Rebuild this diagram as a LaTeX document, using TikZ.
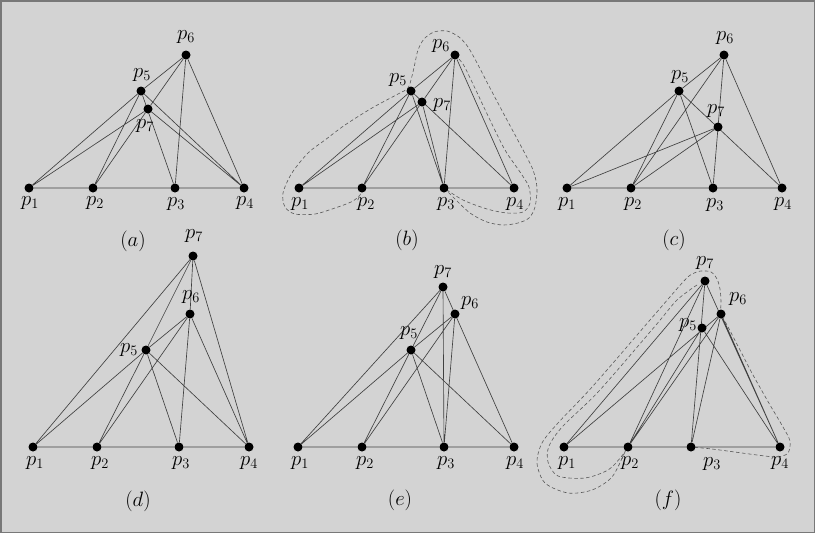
\documentclass[tikz,border=0pt]{standalone}
\definecolor{bgcol}{RGB}{211,211,211}
\definecolor{framecol}{RGB}{120,120,120}
\pgfdeclarelayer{bg}
\pgfsetlayers{bg,main}
\tikzset{
  ptdot/.style={circle,fill=black,inner sep=0pt,minimum size=9pt},
  ptlab/.style={inner sep=0pt,font=\fontsize{20}{24}\selectfont},
  captext/.style={inner sep=0pt,font=\fontsize{20}{24}\selectfont},
  conn/.style={draw=black!75,line width=0.65pt},
  hull/.style={draw=black!65,line width=0.6pt,dash pattern=on 3.5pt off 2.5pt},
}
\newcommand\mypt[4]{\node[ptdot] (#1) at (#2) {}; \node[ptlab] (#1l) at (#3) {$p_{#4}$};}
\begin{document}
\begin{tikzpicture}[x=1pt,y=-1pt]
\useasboundingbox (0,0) rectangle (815,533);
\begin{pgfonlayer}{bg}
\fill[bgcol] (0,0) rectangle (815,533);
\draw[framecol,line width=1.5pt] (0.75,0.75) rectangle (814.25,532.25);
\end{pgfonlayer}
% ---------- (a)
\mypt{a1}{29,188}{30,203}{1}
\mypt{a2}{93,188}{95,203}{2}
\mypt{a3}{175,188}{176,204}{3}
\mypt{a4}{244,188}{245,203}{4}
\mypt{a5}{141,91}{142,75}{5}
\mypt{a6}{186,55}{186,37}{6}
\mypt{a7}{148,109}{145,126}{7}
\node[captext] (capa) at (133,241) {$(a)$};
% ---------- (b)
\mypt{b1}{299,188}{300,204}{1}
\mypt{b2}{362,188}{366,204}{2}
\mypt{b3}{444,188}{446,204}{3}
\mypt{b4}{514,188}{515,204}{4}
\mypt{b5}{411,91}{398,80}{5}
\mypt{b6}{455,55}{441,46}{6}
\mypt{b7}{422,102}{442,105}{7}
\node[captext] (capb) at (407,240) {$(b)$};
% ---------- (c)
\mypt{c1}{567,188}{567,204}{1}
\mypt{c2}{631,188}{633,204}{2}
\mypt{c3}{713,188}{715,205}{3}
\mypt{c4}{782,188}{783,204}{4}
\mypt{c5}{679,91}{680,77}{5}
\mypt{c6}{724,55}{725,38}{6}
\mypt{c7}{718,127}{716,111}{7}
\node[captext] (capc) at (674,240) {$(c)$};
% ---------- (d)
\mypt{d1}{33,447}{35,463}{1}
\mypt{d2}{97,447}{100,463}{2}
\mypt{d3}{179,447}{181,463}{3}
\mypt{d4}{249,447}{249,463}{4}
\mypt{d5}{146,350}{129,350}{5}
\mypt{d6}{190,314}{191,297}{6}
\mypt{d7}{193,256}{194,236}{7}
\node[captext] (capd) at (138,501) {$(d)$};
% ---------- (e)
\mypt{e1}{298,447}{300,463}{1}
\mypt{e2}{362,447}{365,463}{2}
\mypt{e3}{444,447}{446,463}{3}
\mypt{e4}{514,447}{515,463}{4}
\mypt{e5}{411,350}{409,333}{5}
\mypt{e6}{455,314}{470,303}{6}
\mypt{e7}{443,287}{443,272}{7}
\node[captext] (cape) at (400,500) {$(e)$};
% ---------- (f)
\mypt{f1}{564,447}{567,463}{1}
\mypt{f2}{628,447}{630,463}{2}
\mypt{f3}{691,447}{712,464}{3}
\mypt{f4}{780,447}{780,463}{4}
\mypt{f5}{702,328}{688,325}{5}
\mypt{f6}{721,314}{738,299}{6}
\mypt{f7}{705,281}{705,263}{7}
\node[captext] (capf) at (668,500) {$(f)$};
\begin{pgfonlayer}{bg}
% edges (a)
\draw[conn] (a1)--(a2) (a2)--(a3) (a3)--(a4) (a1)--(a5) (a1)--(a7) (a2)--(a5) (a2)--(a7)
  (a5)--(a6) (a5)--(a3) (a5)--(a4) (a7)--(a6) (a7)--(a4) (a6)--(a3) (a6)--(a4);
% edges (b)
\draw[conn] (b1)--(b2) (b2)--(b3) (b3)--(b4) (b1)--(b5) (b1)--(b7) (b2)--(b5) (b2)--(b7)
  (b5)--(b6) (b7)--(b6) (b6)--(b3) (b6)--(b4) (b5)--(b3) (b7)--(b3) (b5)--(b4);
% edges (c)
\draw[conn] (c1)--(c2) (c2)--(c3) (c3)--(c4) (c1)--(c5) (c1)--(c7) (c2)--(c5) (c2)--(c6) (c2)--(c7)
  (c5)--(c6) (c5)--(c3) (c5)--(c4) (c6)--(c3) (c6)--(c4);
% edges (d)
\draw[conn] (d1)--(d2) (d2)--(d3) (d3)--(d4) (d1)--(d7) (d1)--(d5) (d2)--(d5) (d2)--(d6)
  (d5)--(d6) (d5)--(d7) (d5)--(d3) (d5)--(d4) (d6)--(d7) (d6)--(d3) (d6)--(d4) (d7)--(d4);
% edges (e)
\draw[conn] (e1)--(e2) (e2)--(e3) (e3)--(e4) (e1)--(e7) (e1)--(e5) (e2)--(e5) (e2)--(e6)
  (e5)--(e7) (e5)--(e6) (e5)--(e3) (e5)--(e4) (e7)--(e3) (e6)--(e3) (e7)--(e4);
% edges (f)
\draw[conn] (f1)--(f2) (f2)--(f3) (f3)--(f4) (f1)--(f7) (f1)--(f6) (f2)--(f7) (f2)--(f5) (f2)--(f6)
  (f7)--(f3) (f6)--(f3) (f5)--(f4) (f7)--(f4) (f6)--(f4);
% dashed hulls (b)
\draw[hull] plot[smooth] coordinates {(b2.center) (360,195) (351.7,201.7) (335,208) (315,214) (295,214)
  (285,207) (283,193) (291.7,173.3) (308,153) (325,140) (345,125) (372,108) (398,94) (408,88)
  (412,76) (415,63) (418,50) (424,39) (434,32) (447,31) (459,37) (468,47) (476,61) (490,88)
  (507,120) (522,148) (533,170) (537,188) (535,207) (529,218) (518,223) (503,225) (487,222)
  (470,213) (452,196) (b3.center)};
\draw[hull] plot[smooth] coordinates {(b6.center) (463,64) (472,82) (490,120) (505,150) (520,172)
  (529,187) (530,203) (523,212) (507,213) (487,209) (463,200) (b3.center)};
% dashed hulls (f)
\draw[hull] plot[smooth] coordinates {(f2.center) (625,452) (612,477) (592,490) (568,493) (545,483)
  (537,463) (542,443) (558,423) (593,386) (650,320) (683,282) (692,274) (701,271) (711,272)
  (717,279) (720,289) (721,301) (f6.center) (727,325) (740,350) (753,375) (770,405) (783,427) (790,441)
  (788,453) (778,457) (765,456) (742,453) (712,449) (f3.center)};
\draw[hull] plot[smooth] coordinates {(697,285) (677,300) (656,325) (599,391) (563,426) (549,446)
  (548,462) (558,476) (585,478) (608,470) (621,457) (f2.center)};
\end{pgfonlayer}
\end{tikzpicture}
\end{document}
